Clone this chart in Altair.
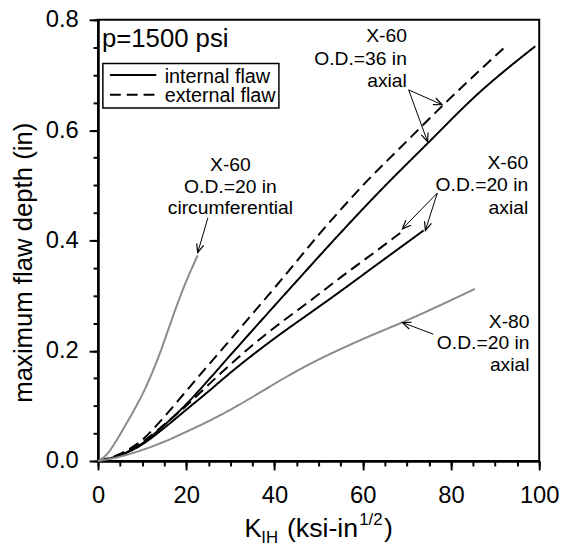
import altair as alt
import pandas as pd
import numpy as np

FONT = "Liberation Sans"

# ---------------- data ----------------
# X-60, O.D.=36 in, axial, internal flaw (solid black)
K_60_36_int = [0, 5, 10, 15, 20, 25.6, 30, 36.8, 45, 55, 63, 74.7, 86, 99.1]
D_60_36_int = [0, 0.011, 0.032, 0.065, 0.103, 0.152, 0.192, 0.253, 0.326, 0.414, 0.482, 0.576, 0.665, 0.752]
# X-60, O.D.=36 in, axial, external flaw (dashed black)
K_60_36_ext = [0, 5, 10, 14, 18, 23.3, 30, 42, 50, 60.3, 70, 78.3, 92.4]
D_60_36_ext = [0, 0.013, 0.038, 0.071, 0.108, 0.158, 0.22, 0.333, 0.41, 0.502, 0.58, 0.646, 0.752]
# X-60, O.D.=20 in, axial, internal flaw (solid black)
K_60_20_int = [0, 5, 10, 15, 20, 25, 30, 35, 42, 48, 55, 63, 73.8]
D_60_20_int = [0, 0.01, 0.03, 0.06, 0.093, 0.126, 0.16, 0.192, 0.234, 0.268, 0.308, 0.355, 0.418]
# X-60, O.D.=20 in, axial, external flaw (dashed black)
K_60_20_ext = [0, 5, 10, 15, 20, 25, 30, 35, 40, 48, 55, 62.6, 68.6]
D_60_20_ext = [0, 0.012, 0.034, 0.066, 0.1, 0.138, 0.175, 0.21, 0.242, 0.29, 0.333, 0.378, 0.414]
# X-60, O.D.=20 in, circumferential (gray)
K_60_20_circ = [0, 2, 4, 6, 8, 10, 12, 14, 16, 18, 20, 22.6]
D_60_20_circ = [0, 0.012, 0.035, 0.062, 0.09, 0.12, 0.155, 0.195, 0.24, 0.285, 0.326, 0.373]
# X-80, O.D.=20 in, axial (gray)
K_80_20_ax = [0, 5, 10, 15, 20, 25, 30, 35, 40, 45, 50, 55, 60, 70, 85.4]
D_80_20_ax = [0, 0.008, 0.02, 0.035, 0.053, 0.072, 0.093, 0.116, 0.14, 0.163, 0.184, 0.203, 0.221, 0.255, 0.312]

series = [
    ("X-60 36 int", "internal flaw", "black", K_60_36_int, D_60_36_int),
    ("X-60 36 ext", "external flaw", "black", K_60_36_ext, D_60_36_ext),
    ("X-60 20 int", "internal flaw", "black", K_60_20_int, D_60_20_int),
    ("X-60 20 ext", "external flaw", "black", K_60_20_ext, D_60_20_ext),
    ("X-60 20 circ", "internal flaw", "gray", K_60_20_circ, D_60_20_circ),
    ("X-80 20 axial", "internal flaw", "gray", K_80_20_ax, D_80_20_ax),
]
rows = []
for name, flaw, tone, ks, ds in series:
    for k, d in zip(ks, ds):
        rows.append({"series": name, "flaw": flaw, "tone": tone, "K": k, "depth": d})
df = pd.DataFrame(rows)

# annotation labels (one row per text line)
lab_text = ["X-60", "O.D.=36 in", "axial",
            "X-60", "O.D.=20 in", "axial",
            "X-80", "O.D.=20 in", "axial"]
lab_x = [70.0, 70.0, 70.0, 97.5, 97.5, 97.5, 97.8, 97.8, 97.8]
lab_y = [0.759, 0.718, 0.678, 0.529, 0.489, 0.448, 0.242, 0.203, 0.163]
circ_text = ["X-60", "O.D.=20 in", "circumferential"]
circ_x = [30.0, 30.0, 30.0]
circ_y = [0.526, 0.486, 0.447]

# annotation arrows: start -> tip
arr_x0 = [70.4, 70.4, 76.9, 76.9, 24.9, 76.0]
arr_y0 = [0.673, 0.673, 0.486, 0.486, 0.441, 0.230]
arr_x1 = [78.0, 74.7, 69.0, 74.2, 22.6, 69.0]
arr_y1 = [0.646, 0.579, 0.421, 0.418, 0.378, 0.251]

# legend entries
leg_labels = ["internal flaw", "external flaw"]
leg_flaw = ["internal flaw", "external flaw"]

# x-axis title pieces: text, font size, left x (px in plot), baseline y (px in plot)
title_parts = [("K", 26, 148, 523), ("IH", 17, 165, 529), ("(ksi-in", 27, 191, 523),
               ("1/2", 17, 264, 511), (")", 27, 289, 523)]

# ---------------- layout ----------------
W = 446
H = 446
X_DOM = [0, 100]
Y_DOM = [0, 0.8]
px_per_x = W / (X_DOM[1] - X_DOM[0])
px_per_y = H / (Y_DOM[1] - Y_DOM[0])

xscale = alt.Scale(domain=X_DOM, nice=False, zero=False)
yscale = alt.Scale(domain=Y_DOM, nice=False, zero=False)
dash_scale = alt.Scale(domain=["internal flaw", "external flaw"], range=[[1, 0], [11, 6]])

common_axis = dict(grid=False, domainColor="black", domainWidth=2, tickColor="black",
                   labelColor="black", labelFont=FONT, labelFlush=False)

x_major = alt.Axis(orient="bottom", values=[0, 20, 40, 60, 80, 100], tickSize=9, tickWidth=2,
                   labelFontSize=24, labelPadding=14, title=None, **common_axis)
y_major = alt.Axis(orient="left", values=[0, 0.2, 0.4, 0.6, 0.8], format=".1f", tickSize=9, tickWidth=2,
                   labelFontSize=24, labelPadding=11,
                   title="maximum flaw depth (in)", titleFont=FONT, titleFontSize=26,
                   titleFontWeight="normal", titleColor="black", titleAngle=270,
                   titleX=-67, titleY=245, titleAlign="center", titleBaseline="alphabetic",
                   **common_axis)
x_minor = alt.Axis(orient="bottom", values=list(range(0, 101, 5)), tickSize=5, tickWidth=2,
                   labels=False, title=None, **common_axis)
y_minor = alt.Axis(orient="left", values=[round(v * 0.05, 2) for v in range(17)], tickSize=5,
                   tickWidth=2, labels=False, title=None, **common_axis)

minor_layer = alt.Chart(df).mark_point(opacity=0).encode(
    x=alt.X("K:Q", scale=xscale, axis=x_minor),
    y=alt.Y("depth:Q", scale=yscale, axis=y_minor),
)

lines = alt.Chart(df).mark_line(strokeWidth=2, interpolate="monotone").encode(
    x=alt.X("K:Q", scale=xscale, axis=x_major),
    y=alt.Y("depth:Q", scale=yscale, axis=y_major),
    color=alt.Color("tone:N", scale=alt.Scale(domain=["black", "gray"], range=["#000000", "#8a8a8a"]), legend=None),
    strokeDash=alt.StrokeDash("flaw:N", scale=dash_scale, legend=None),
    detail="series:N",
)

lab_df = pd.DataFrame({"x": lab_x, "y": lab_y, "t": lab_text})
labels_right = alt.Chart(lab_df).mark_text(align="right", baseline="alphabetic", font=FONT,
                                           fontSize=19.5, color="black").encode(
    x=alt.X("x:Q", scale=xscale, axis=None), y=alt.Y("y:Q", scale=yscale, axis=None), text="t:N")

circ_df = pd.DataFrame({"x": circ_x, "y": circ_y, "t": circ_text})
labels_center = alt.Chart(circ_df).mark_text(align="center", baseline="alphabetic", font=FONT,
                                             fontSize=19.5, color="black").encode(
    x=alt.X("x:Q", scale=xscale, axis=None), y=alt.Y("y:Q", scale=yscale, axis=None), text="t:N")

arr_df = pd.DataFrame({"x0": arr_x0, "y0": arr_y0, "x1": arr_x1, "y1": arr_y1})
dxp = (arr_df["x1"] - arr_df["x0"]) * px_per_x
dyp = -(arr_df["y1"] - arr_df["y0"]) * px_per_y
arr_df["ang"] = (np.degrees(np.arctan2(dyp, dxp)) + 360) % 360

arrow_lines = alt.Chart(arr_df).mark_rule(color="black", strokeWidth=1).encode(
    x=alt.X("x0:Q", scale=xscale, axis=None), y=alt.Y("y0:Q", scale=yscale, axis=None),
    x2="x1:Q", y2="y1:Q")
arrow_heads = alt.Chart(arr_df).mark_point(shape="M-1,-0.42L0,0L-1,0.42", filled=False,
                                           color="black", strokeWidth=1.2, size=300, opacity=1).encode(
    x=alt.X("x1:Q", scale=xscale, axis=None), y=alt.Y("y1:Q", scale=yscale, axis=None),
    angle=alt.Angle("ang:Q", scale=None))

# legend (drawn in data coordinates)
box_df = pd.DataFrame({"x": [1.1], "x2": [41.0], "y": [0.721], "y2": [0.640]})
leg_box = alt.Chart(box_df).mark_rect(fill="white", stroke="black", strokeWidth=1.5).encode(
    x=alt.X("x:Q", scale=xscale, axis=None), x2="x2:Q",
    y=alt.Y("y:Q", scale=yscale, axis=None), y2="y2:Q")
leg_df = pd.DataFrame({"flaw": leg_flaw, "t": leg_labels, "xa": [2.7, 2.7], "xb": [13.2, 13.2],
                       "ys": [0.700, 0.664], "xt": [15.1, 15.1], "yt": [0.686, 0.651]})
leg_lines = alt.Chart(leg_df).mark_rule(strokeWidth=2, color="black").encode(
    x=alt.X("xa:Q", scale=xscale, axis=None), x2="xb:Q",
    y=alt.Y("ys:Q", scale=yscale, axis=None),
    strokeDash=alt.StrokeDash("flaw:N", scale=dash_scale, legend=None))
leg_text = alt.Chart(leg_df).mark_text(align="left", baseline="alphabetic", font=FONT, fontSize=20,
                                       color="black").encode(
    x=alt.X("xt:Q", scale=xscale, axis=None), y=alt.Y("yt:Q", scale=yscale, axis=None), text="t:N")

p_df = pd.DataFrame({"x": [0.9], "y": [0.750], "t": ["p=1500 psi"]})
p_text = alt.Chart(p_df).mark_text(align="left", baseline="alphabetic", font=FONT, fontSize=26,
                                   color="black").encode(
    x=alt.X("x:Q", scale=xscale, axis=None), y=alt.Y("y:Q", scale=yscale, axis=None), text="t:N")

one = pd.DataFrame({"a": [0]})
xtitle_layers = []
for txt, fs, px, py in title_parts:
    xtitle_layers.append(
        alt.Chart(one).mark_text(text=txt, align="left", baseline="alphabetic", font=FONT,
                                 fontSize=fs, color="black").encode(
            x=alt.value(px), y=alt.value(py)))

chart = alt.layer(
    minor_layer, lines, arrow_lines, arrow_heads, labels_right, labels_center,
    leg_box, leg_lines, leg_text, p_text, *xtitle_layers
).resolve_axis(x="independent", y="independent").properties(
    width=W, height=H,
    autosize=alt.AutoSizeParams(type="none"),
    padding={"left": 91, "top": 9, "right": 20, "bottom": 86},
    background="white",
).configure_view(stroke="black", strokeWidth=2)

chart.save("out.html", embed_options={"renderer": "svg", "actions": False})
